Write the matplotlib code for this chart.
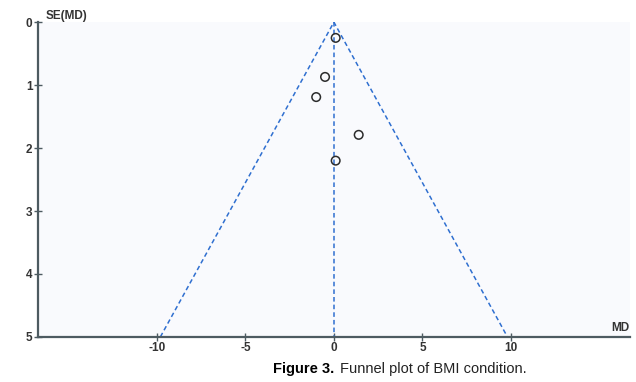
import numpy as np
import matplotlib.pyplot as plt

plt.rcParams.update({
    "font.family": "Liberation Sans",
    "font.size": 8,
    "axes.unicode_minus": False,
})

# study estimates (mean difference, standard error)
md = [0.1, -0.5, -1.0, 1.4, 0.1]
se = [0.25, 0.87, 1.19, 1.79, 2.20]

pooled_md = 0.0
se_max = 5
xticks = [-10, -5, 0, 5, 10]
yticks = [0, 1, 2, 3, 4, 5]

AXIS = "#4d5b61"
BLUE = "#2f6fd0"

fig = plt.figure(figsize=(6.36, 3.82), dpi=100)
ax = fig.add_axes([0.06, 0.118, 0.93, 0.824])
ax.set_facecolor("#f9fafd")

# funnel (95% limits) and pooled estimate line
ax.plot([pooled_md - 1.96 * se_max, pooled_md, pooled_md + 1.96 * se_max],
        [se_max, 0, se_max], color=BLUE, linestyle=(0, (3, 2)), linewidth=1.1)
ax.plot([pooled_md, pooled_md], [0, se_max], color=BLUE,
        linestyle=(0, (3, 2)), linewidth=1.1)

ax.scatter(md, se, s=38, facecolors="none", edgecolors="#2b2b2b",
           linewidths=1.1, zorder=3)

ax.set_xlim(-16.7, 16.7)
ax.set_ylim(se_max, 0)
ax.set_xticks(xticks)
ax.set_yticks(yticks)
ax.tick_params(direction="inout", length=6, width=1.0, color=AXIS,
               labelsize=8.5, pad=1)
for lbl in ax.get_xticklabels() + ax.get_yticklabels():
    lbl.set_fontweight("bold")
    lbl.set_color("#333333")

for side in ["top", "right"]:
    ax.spines[side].set_visible(False)
for side in ["left", "bottom"]:
    ax.spines[side].set_color(AXIS)
    ax.spines[side].set_linewidth(1.6)

ax.text(0.012, 1.0, "SE(MD)", transform=ax.transAxes, fontsize=8.5,
        fontweight="bold", color="#333333", va="bottom", ha="left")
ax.text(1.0, 0.008, "MD", transform=ax.transAxes, fontsize=8.5,
        fontweight="bold", color="#333333", va="bottom", ha="right")

fig.text(0.525, 0.034, "Figure 3.", fontsize=10.5, fontweight="bold",
         ha="right", va="center")
fig.text(0.535, 0.034, "Funnel plot of BMI condition.", fontsize=10.5,
         ha="left", va="center", color="#222222")

fig.savefig("out.png", dpi=100)
